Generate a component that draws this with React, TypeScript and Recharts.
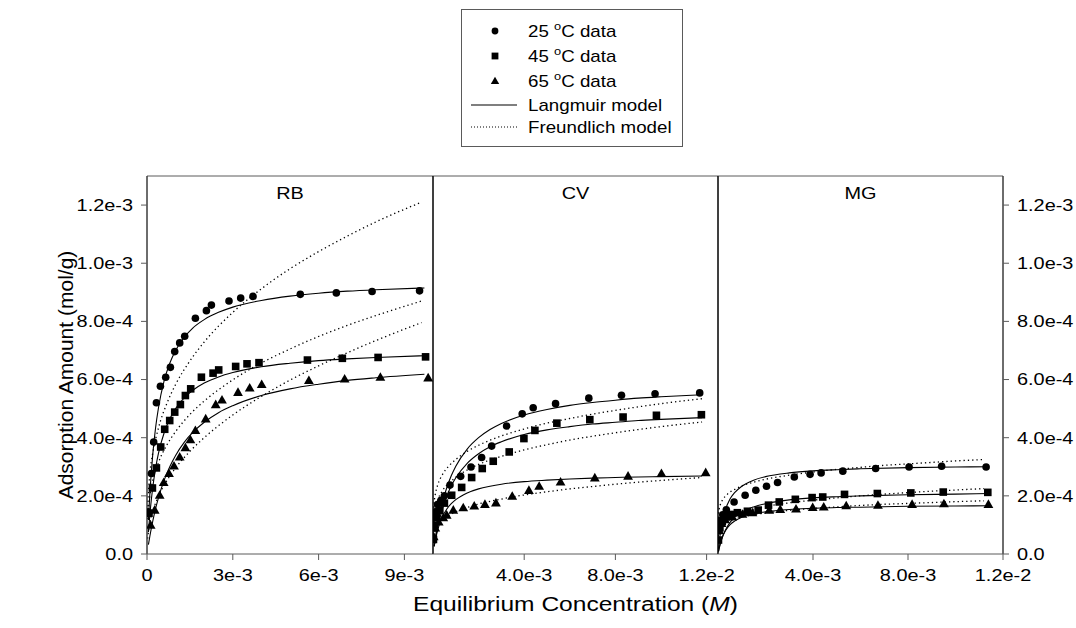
import React from "react";
import {
  ComposedChart,
  Line,
  Scatter,
  XAxis,
  YAxis,
  ReferenceLine,
} from "recharts";

// ---- shared axis values ----
const yTicks = [0, 2e-4, 4e-4, 6e-4, 8e-4, 1.0e-3, 1.2e-3];
const yTickLabels = ["0.0", "2.0e-4", "4.0e-4", "6.0e-4", "8.0e-4", "1.0e-3", "1.2e-3"];
const rbXTicks = [0, 3e-3, 6e-3, 9e-3];
const rbXLabels = ["0", "3e-3", "6e-3", "9e-3"];
const cvXTicks = [4e-3, 8e-3, 1.2e-2];
const cvXLabels = ["4.0e-3", "8.0e-3", "1.2e-2"];
const mgXTicks = [4e-3, 8e-3, 1.2e-2];
const mgXLabels = ["4.0e-3", "8.0e-3", "1.2e-2"];

// ---- RB ----
const rb25X = [5e-5, 1.54e-4, 2.34e-4, 3.29e-4, 4.69e-4, 6.54e-4, 8.18e-4, 9.69e-4, 1.143e-3, 1.318e-3, 1.692e-3, 2.077e-3, 2.252e-3, 2.867e-3, 3.276e-3, 3.706e-3, 5.36e-3, 6.62e-3, 7.87e-3, 9.53e-3];
const rb25Y = [1.45e-4, 2.77e-4, 3.85e-4, 5.2e-4, 5.77e-4, 6.08e-4, 6.42e-4, 6.96e-4, 7.26e-4, 7.49e-4, 8.11e-4, 8.37e-4, 8.56e-4, 8.7e-4, 8.8e-4, 8.86e-4, 8.93e-4, 8.98e-4, 9.03e-4, 9.05e-4];
const rb45X = [7e-5, 1.89e-4, 3.29e-4, 4.79e-4, 6.19e-4, 7.94e-4, 9.69e-4, 1.167e-3, 1.342e-3, 1.528e-3, 1.902e-3, 2.31e-3, 2.507e-3, 3.1e-3, 3.497e-3, 3.916e-3, 5.61e-3, 6.83e-3, 8.08e-3, 9.74e-3];
const rb45Y = [1.4e-4, 2.27e-4, 2.96e-4, 3.68e-4, 4.29e-4, 4.59e-4, 4.88e-4, 5.14e-4, 5.45e-4, 5.68e-4, 6.08e-4, 6.22e-4, 6.33e-4, 6.45e-4, 6.54e-4, 6.58e-4, 6.67e-4, 6.73e-4, 6.76e-4, 6.78e-4];
const rb65X = [1.29e-4, 2.69e-4, 4.44e-4, 5.84e-4, 7.69e-4, 9.44e-4, 1.143e-3, 1.342e-3, 1.517e-3, 1.692e-3, 2.052e-3, 2.402e-3, 2.622e-3, 3.182e-3, 3.591e-3, 4.01e-3, 5.66e-3, 6.91e-3, 8.16e-3, 9.83e-3];
const rb65Y = [9.9e-5, 1.51e-4, 2.02e-4, 2.46e-4, 2.77e-4, 3.03e-4, 3.34e-4, 3.66e-4, 3.93e-4, 4.25e-4, 4.65e-4, 5.14e-4, 5.3e-4, 5.56e-4, 5.71e-4, 5.83e-4, 5.97e-4, 6.02e-4, 6.08e-4, 6.06e-4];

const rbLangX = [5e-5, 1e-4, 2e-4, 3e-4, 4e-4, 6e-4, 8e-4, 1e-3, 1.3e-3, 1.6e-3, 2e-3, 2.5e-3, 3e-3, 4e-3, 5e-3, 6e-3, 7e-3, 8e-3, 9.7e-3];
const rb25Lang = [1.17e-4, 2.08e-4, 3.41e-4, 4.34e-4, 5.02e-4, 5.96e-4, 6.57e-4, 7.0e-4, 7.45e-4, 7.77e-4, 8.06e-4, 8.31e-4, 8.49e-4, 8.72e-4, 8.87e-4, 8.97e-4, 9.04e-4, 9.09e-4, 9.15e-4];
const rb45Lang = [7.5e-5, 1.36e-4, 2.28e-4, 2.95e-4, 3.46e-4, 4.17e-4, 4.65e-4, 5.0e-4, 5.37e-4, 5.63e-4, 5.88e-4, 6.09e-4, 6.24e-4, 6.44e-4, 6.56e-4, 6.65e-4, 6.71e-4, 6.76e-4, 6.82e-4];
const rb65Lang = [3.2e-5, 6.1e-5, 1.12e-4, 1.56e-4, 1.93e-4, 2.54e-4, 3.01e-4, 3.39e-4, 3.84e-4, 4.18e-4, 4.53e-4, 4.86e-4, 5.1e-4, 5.45e-4, 5.68e-4, 5.84e-4, 5.97e-4, 6.06e-4, 6.18e-4];

const rbFreuX = [2e-5, 1e-4, 2e-4, 4e-4, 7e-4, 1e-3, 1.5e-3, 2e-3, 3e-3, 4e-3, 5e-3, 6e-3, 7e-3, 8e-3, 9.6e-3];
const rb25Freu = [1.64e-4, 2.77e-4, 3.46e-4, 4.33e-4, 5.19e-4, 5.83e-4, 6.64e-4, 7.29e-4, 8.31e-4, 9.12e-4, 9.81e-4, 1.04e-3, 1.093e-3, 1.142e-3, 1.21e-3];
const rb45Freu = [1.2e-4, 2.01e-4, 2.51e-4, 3.14e-4, 3.76e-4, 4.21e-4, 4.8e-4, 5.26e-4, 5.99e-4, 6.57e-4, 7.05e-4, 7.48e-4, 7.86e-4, 8.2e-4, 8.7e-4];
const rb65Freu = [5.3e-5, 1.08e-4, 1.46e-4, 1.98e-4, 2.53e-4, 2.96e-4, 3.53e-4, 4.0e-4, 4.78e-4, 5.42e-4, 5.98e-4, 6.47e-4, 6.92e-4, 7.34e-4, 7.96e-4];

// ---- CV ----
const cv25X = [3e-5, 1e-4, 2e-4, 3.5e-4, 5e-4, 7.45e-4, 1.213e-3, 1.665e-3, 2.133e-3, 2.572e-3, 3.229e-3, 3.913e-3, 4.394e-3, 5.375e-3, 6.834e-3, 8.267e-3, 9.739e-3, 1.1697e-2];
const cv25Y = [1.0e-4, 1.45e-4, 1.7e-4, 1.85e-4, 2.0e-4, 2.37e-4, 2.67e-4, 2.99e-4, 3.32e-4, 3.71e-4, 4.4e-4, 4.82e-4, 5.03e-4, 5.17e-4, 5.36e-4, 5.46e-4, 5.51e-4, 5.54e-4];
const cv45X = [2e-5, 6e-5, 1.5e-4, 3e-4, 5e-4, 8.19e-4, 1.257e-3, 1.695e-3, 2.16e-3, 2.642e-3, 3.343e-3, 3.987e-3, 4.469e-3, 5.432e-3, 6.878e-3, 8.337e-3, 9.8e-3, 1.1772e-2];
const cv45Y = [5e-5, 9e-5, 1.25e-4, 1.5e-4, 1.75e-4, 2.02e-4, 2.29e-4, 2.63e-4, 2.94e-4, 3.19e-4, 3.51e-4, 3.97e-4, 4.25e-4, 4.5e-4, 4.62e-4, 4.71e-4, 4.77e-4, 4.79e-4];
const cv65X = [3e-5, 1e-4, 2.5e-4, 4.5e-4, 6e-4, 8.9e-4, 1.327e-3, 1.809e-3, 2.278e-3, 2.76e-3, 3.475e-3, 4.206e-3, 4.657e-3, 5.595e-3, 7.097e-3, 8.556e-3, 1.0019e-2, 1.196e-2];
const cv65Y = [6e-5, 9e-5, 1.1e-4, 1.25e-4, 1.34e-4, 1.51e-4, 1.59e-4, 1.65e-4, 1.71e-4, 1.76e-4, 1.99e-4, 2.19e-4, 2.33e-4, 2.48e-4, 2.62e-4, 2.68e-4, 2.77e-4, 2.8e-4];

const cvLangX = [5e-5, 2e-4, 4e-4, 6e-4, 8e-4, 1e-3, 1.5e-3, 2e-3, 2.5e-3, 3e-3, 4e-3, 5e-3, 6e-3, 7e-3, 8e-3, 9e-3, 1e-2, 1.18e-2];
const cv25Lang = [2.9e-5, 1.02e-4, 1.74e-4, 2.27e-4, 2.69e-4, 3.02e-4, 3.61e-4, 4.0e-4, 4.28e-4, 4.49e-4, 4.78e-4, 4.97e-4, 5.11e-4, 5.21e-4, 5.29e-4, 5.36e-4, 5.41e-4, 5.48e-4];
const cv45Lang = [2.6e-5, 8.96e-5, 1.52e-4, 1.99e-4, 2.34e-4, 2.62e-4, 3.12e-4, 3.45e-4, 3.69e-4, 3.86e-4, 4.11e-4, 4.27e-4, 4.38e-4, 4.47e-4, 4.53e-4, 4.59e-4, 4.63e-4, 4.69e-4];
const cv65Lang = [2.6e-5, 8.1e-5, 1.26e-4, 1.54e-4, 1.73e-4, 1.87e-4, 2.1e-4, 2.24e-4, 2.33e-4, 2.4e-4, 2.49e-4, 2.54e-4, 2.58e-4, 2.61e-4, 2.63e-4, 2.65e-4, 2.66e-4, 2.68e-4];

const cvFreuX = [1e-5, 5e-5, 1e-4, 2e-4, 4e-4, 7e-4, 1e-3, 1.5e-3, 2e-3, 3e-3, 4e-3, 5e-3, 6e-3, 7e-3, 8e-3, 9e-3, 1e-2, 1.18e-2];
const cv25Freu = [1.29e-4, 1.78e-4, 2.05e-4, 2.36e-4, 2.71e-4, 3.03e-4, 3.25e-4, 3.53e-4, 3.74e-4, 4.06e-4, 4.3e-4, 4.5e-4, 4.66e-4, 4.81e-4, 4.94e-4, 5.06e-4, 5.17e-4, 5.34e-4];
const cv45Freu = [9.6e-5, 1.37e-4, 1.59e-4, 1.85e-4, 2.16e-4, 2.44e-4, 2.64e-4, 2.89e-4, 3.08e-4, 3.36e-4, 3.58e-4, 3.76e-4, 3.92e-4, 4.05e-4, 4.17e-4, 4.28e-4, 4.38e-4, 4.54e-4];
const cv65Freu = [4.8e-5, 7.1e-5, 8.3e-5, 9.9e-5, 1.16e-4, 1.33e-4, 1.45e-4, 1.6e-4, 1.72e-4, 1.89e-4, 2.03e-4, 2.14e-4, 2.24e-4, 2.32e-4, 2.4e-4, 2.47e-4, 2.53e-4, 2.63e-4];

// ---- MG ----
const mg25X = [4e-5, 1e-4, 2e-4, 3.5e-4, 6.77e-4, 1.142e-3, 1.593e-3, 2.043e-3, 2.508e-3, 3.213e-3, 3.877e-3, 4.342e-3, 5.256e-3, 6.638e-3, 8.046e-3, 9.416e-3, 1.1289e-2];
const mg25Y = [8e-5, 1.15e-4, 1.35e-4, 1.52e-4, 1.79e-4, 2.02e-4, 2.19e-4, 2.33e-4, 2.46e-4, 2.65e-4, 2.74e-4, 2.79e-4, 2.85e-4, 2.94e-4, 2.99e-4, 3.02e-4, 2.99e-4];
const mg45X = [2e-5, 8e-5, 1.8e-4, 3.5e-4, 5.5e-4, 8.16e-4, 1.239e-3, 1.691e-3, 2.127e-3, 2.579e-3, 3.256e-3, 3.962e-3, 4.41e-3, 5.327e-3, 6.709e-3, 8.118e-3, 9.484e-3, 1.136e-2];
const mg45Y = [4.8e-5, 9e-5, 1.12e-4, 1.28e-4, 1.36e-4, 1.42e-4, 1.47e-4, 1.51e-4, 1.68e-4, 1.79e-4, 1.88e-4, 1.94e-4, 1.96e-4, 2.05e-4, 2.08e-4, 2.1e-4, 2.13e-4, 2.12e-4];
const mg65X = [5e-5, 1.5e-4, 3e-4, 6e-4, 1.028e-3, 1.45e-3, 2.156e-3, 2.621e-3, 3.285e-3, 3.987e-3, 4.452e-3, 5.399e-3, 6.735e-3, 8.173e-3, 9.513e-3, 1.1386e-2];
const mg65Y = [8e-5, 1.05e-4, 1.18e-4, 1.28e-4, 1.37e-4, 1.42e-4, 1.51e-4, 1.53e-4, 1.55e-4, 1.6e-4, 1.62e-4, 1.66e-4, 1.68e-4, 1.71e-4, 1.73e-4, 1.71e-4];

const mgLangX = [2e-5, 5e-5, 1e-4, 2e-4, 3e-4, 5e-4, 7e-4, 1e-3, 1.5e-3, 2e-3, 3e-3, 4e-3, 5e-3, 6e-3, 8e-3, 1e-2, 1.14e-2];
const mg25Lang = [1.8e-5, 4.1e-5, 7.3e-5, 1.18e-4, 1.49e-4, 1.88e-4, 2.11e-4, 2.33e-4, 2.54e-4, 2.66e-4, 2.79e-4, 2.86e-4, 2.9e-4, 2.93e-4, 2.97e-4, 2.99e-4, 3.0e-4];
const mg45Lang = [8e-6, 1.9e-5, 3.6e-5, 6.1e-5, 8.0e-5, 1.08e-4, 1.26e-4, 1.44e-4, 1.62e-4, 1.73e-4, 1.86e-4, 1.93e-4, 1.97e-4, 2.0e-4, 2.04e-4, 2.06e-4, 2.08e-4];
const mg65Lang = [9e-6, 2.1e-5, 3.8e-5, 6.2e-5, 7.8e-5, 1.0e-4, 1.13e-4, 1.26e-4, 1.38e-4, 1.45e-4, 1.53e-4, 1.57e-4, 1.6e-4, 1.61e-4, 1.64e-4, 1.65e-4, 1.66e-4];

const mgFreuX = [1e-5, 5e-5, 1e-4, 2e-4, 4e-4, 7e-4, 1e-3, 1.5e-3, 2e-3, 3e-3, 4e-3, 5e-3, 6e-3, 7e-3, 8e-3, 9e-3, 1e-2, 1.12e-2];
const mg25Freu = [1.24e-4, 1.55e-4, 1.7e-4, 1.87e-4, 2.06e-4, 2.22e-4, 2.34e-4, 2.47e-4, 2.57e-4, 2.71e-4, 2.82e-4, 2.91e-4, 2.98e-4, 3.05e-4, 3.1e-4, 3.15e-4, 3.2e-4, 3.25e-4];
const mg45Freu = [6.0e-5, 8.1e-5, 9.2e-5, 1.05e-4, 1.2e-4, 1.33e-4, 1.43e-4, 1.54e-4, 1.63e-4, 1.76e-4, 1.85e-4, 1.93e-4, 2.0e-4, 2.06e-4, 2.11e-4, 2.16e-4, 2.2e-4, 2.25e-4];
const mg65Freu = [6.2e-5, 8.0e-5, 8.9e-5, 9.9e-5, 1.1e-4, 1.2e-4, 1.27e-4, 1.35e-4, 1.41e-4, 1.5e-4, 1.57e-4, 1.62e-4, 1.67e-4, 1.71e-4, 1.74e-4, 1.77e-4, 1.8e-4, 1.83e-4];

// ---- drawing ----
const FONT = "'Liberation Sans', Arial, Helvetica, sans-serif";
const WIDE = 1.17; // text in this figure is set a little wide
const FRAME = "#5a5a5a";
const Y_MAX = 1.3e-3;

type Pt = { x: number; y: number };
const zip = (xs: number[], ys: number[]): Pt[] => xs.map((x, i) => ({ x, y: ys[i] }));

const Dot = (p: any) => <circle cx={p.cx} cy={p.cy} r={3.8} fill="#000" />;
const Box = (p: any) => (
  <rect x={p.cx - 3.8} y={p.cy - 3.8} width={7.6} height={7.6} fill="#000" />
);
const Tri = (p: any) => (
  <polygon
    points={`${p.cx},${p.cy - 5} ${p.cx + 4.9},${p.cy + 3.6} ${p.cx - 4.9},${p.cy + 3.6}`}
    fill="#000"
  />
);

const WideText = ({ x, y, anchor, dy, size, children }: any) => (
  <g transform={`translate(${x},${y})`}>
    <text
      transform={`scale(${WIDE},1)`}
      textAnchor={anchor}
      dy={dy}
      fontSize={size}
      fontFamily={FONT}
      fill="#000"
    >
      {children}
    </text>
  </g>
);

const tickRenderer = (labels: string[], anchor: string, dy: string) => (p: any) => (
  <WideText x={p.x} y={p.y} anchor={anchor} dy={dy} size={17}>
    {labels[p.index]}
  </WideText>
);

type Temp = { pts: Pt[]; lang: Pt[]; freu: Pt[]; shape: (p: any) => React.ReactElement };

type PanelProps = {
  name: string;
  left: number;
  width: number;
  margin: { top: number; right: number; bottom: number; left: number };
  xMax: number;
  xTicks: number[];
  xLabels: string[];
  temps: Temp[];
  yAxis: "left" | "right" | "none";
  xTitle?: boolean;
};

const Panel = ({ name, left, width, margin, xMax, xTicks, xLabels, temps, yAxis, xTitle }: PanelProps) => (
  <div style={{ position: "absolute", left, top: 0 }}>
    <ComposedChart width={width} height={628} margin={margin}>
      <XAxis
        type="number"
        dataKey="x"
        domain={[0, xMax]}
        ticks={xTicks}
        allowDataOverflow
        stroke={FRAME}
        tickSize={6}
        tickMargin={9}
        height={30}
        tick={tickRenderer(xLabels, "middle", "0.71em")}
        label={
          xTitle
            ? {
                content: (lp: any) => {
                  const vb = lp.viewBox;
                  return (
                    <g transform={`translate(${vb.x + vb.width / 2},${vb.y + 57})`}>
                      <text transform={`scale(${WIDE},1)`} textAnchor="middle" fontSize={21} fontFamily={FONT} fill="#000">
                        Equilibrium Concentration (<tspan fontStyle="italic">M</tspan>)
                      </text>
                    </g>
                  );
                },
              }
            : undefined
        }
      />
      <YAxis
        type="number"
        dataKey="y"
        domain={[0, Y_MAX]}
        ticks={yTicks}
        allowDataOverflow
        hide={yAxis === "none"}
        orientation={yAxis === "right" ? "right" : "left"}
        width={yAxis === "left" ? 147 : 72}
        stroke={FRAME}
        tickSize={6}
        tickMargin={8}
        tick={tickRenderer(yTickLabels, yAxis === "right" ? "start" : "end", "0.35em")}
        label={
          yAxis === "left"
            ? {
                content: () => (
                  <g transform="translate(66,375) rotate(-90)">
                    <text textAnchor="middle" dy="0.35em" fontSize={21} fontFamily={FONT} fill="#000">
                      Adsorption Amount (mol/g)
                    </text>
                  </g>
                ),
              }
            : undefined
        }
      />
      <ReferenceLine
        y={Y_MAX}
        stroke={FRAME}
        label={{
          content: (lp: any) => {
            const vb = lp.viewBox;
            return (
              <WideText x={vb.x + vb.width / 2} y={vb.y + 23} anchor="middle" dy="0" size={17}>
                {name}
              </WideText>
            );
          },
        }}
      />
      <ReferenceLine x={0} stroke="#000" />
      <ReferenceLine x={xMax} stroke="#000" />
      {temps.map((t, i) => (
        <Line
          key={`l${i}`}
          data={t.lang}
          dataKey="y"
          type="monotone"
          stroke="#000"
          strokeWidth={1.1}
          dot={false}
          isAnimationActive={false}
        />
      ))}
      {temps.map((t, i) => (
        <Line
          key={`f${i}`}
          data={t.freu}
          dataKey="y"
          type="monotone"
          stroke="#000"
          strokeWidth={1.3}
          strokeDasharray="1.3 3"
          dot={false}
          isAnimationActive={false}
        />
      ))}
      {temps.map((t, i) => (
        <Scatter key={`s${i}`} data={t.pts} dataKey="y" shape={t.shape} isAnimationActive={false} />
      ))}
    </ComposedChart>
  </div>
);

const legendRows = [
  { label: "25", shape: "dot" },
  { label: "45", shape: "box" },
  { label: "65", shape: "tri" },
];

const Legend = () => (
  <svg
    width={222}
    height={140}
    style={{ position: "absolute", left: 461, top: 9 }}
  >
    <rect x={0.5} y={0.5} width={221} height={137} fill="#fff" stroke={FRAME} />
    {legendRows.map((r, i) => {
      const cy = 22 + i * 25;
      return (
        <g key={r.label}>
          {r.shape === "dot" && <circle cx={34} cy={cy} r={3.4} fill="#000" />}
          {r.shape === "box" && <rect x={30.6} y={cy - 3.4} width={6.8} height={6.8} fill="#000" />}
          {r.shape === "tri" && (
            <polygon points={`34,${cy - 4.3} 38.2,${cy + 3.1} 29.8,${cy + 3.1}`} fill="#000" />
          )}
          <g transform={`translate(67,${cy})`}>
            <text transform={`scale(${WIDE},1)`} dy="0.35em" fontSize={16} fontFamily={FONT} fill="#000">
              {r.label} <tspan fontSize={11} dy="-7">o</tspan>
              <tspan dy="7">C data</tspan>
            </text>
          </g>
        </g>
      );
    })}
    <line x1={10} x2={56} y1={96} y2={96} stroke="#000" strokeWidth={1.1} />
    <line x1={10} x2={56} y1={118} y2={118} stroke="#000" strokeWidth={1.2} strokeDasharray="1 2" />
    <g transform="translate(67,96)">
      <text transform={`scale(${WIDE},1)`} dy="0.35em" fontSize={16} fontFamily={FONT} fill="#000">
        Langmuir model
      </text>
    </g>
    <g transform="translate(67,118)">
      <text transform={`scale(${WIDE},1)`} dy="0.35em" fontSize={16} fontFamily={FONT} fill="#000">
        Freundlich model
      </text>
    </g>
  </svg>
);

const rbTemps: Temp[] = [
  { pts: zip(rb25X, rb25Y), lang: zip(rbLangX, rb25Lang), freu: zip(rbFreuX, rb25Freu), shape: Dot },
  { pts: zip(rb45X, rb45Y), lang: zip(rbLangX, rb45Lang), freu: zip(rbFreuX, rb45Freu), shape: Box },
  { pts: zip(rb65X, rb65Y), lang: zip(rbLangX, rb65Lang), freu: zip(rbFreuX, rb65Freu), shape: Tri },
];
const cvTemps: Temp[] = [
  { pts: zip(cv25X, cv25Y), lang: zip(cvLangX, cv25Lang), freu: zip(cvFreuX, cv25Freu), shape: Dot },
  { pts: zip(cv45X, cv45Y), lang: zip(cvLangX, cv45Lang), freu: zip(cvFreuX, cv45Freu), shape: Box },
  { pts: zip(cv65X, cv65Y), lang: zip(cvLangX, cv65Lang), freu: zip(cvFreuX, cv65Freu), shape: Tri },
];
const mgTemps: Temp[] = [
  { pts: zip(mg25X, mg25Y), lang: zip(mgLangX, mg25Lang), freu: zip(mgFreuX, mg25Freu), shape: Dot },
  { pts: zip(mg45X, mg45Y), lang: zip(mgLangX, mg45Lang), freu: zip(mgFreuX, mg45Freu), shape: Box },
  { pts: zip(mg65X, mg65Y), lang: zip(mgLangX, mg65Lang), freu: zip(mgFreuX, mg65Freu), shape: Tri },
];

export default function App() {
  return (
    <div
      style={{
        position: "fixed",
        left: 0,
        top: 0,
        width: 1076,
        height: 628,
        background: "#fff",
        overflow: "hidden",
      }}
    >
      <Panel
        name="RB"
        left={0}
        width={460}
        margin={{ top: 176, right: 27, bottom: 44, left: 0 }}
        xMax={0.01}
        xTicks={rbXTicks}
        xLabels={rbXLabels}
        temps={rbTemps}
        yAxis="left"
      />
      <Panel
        name="CV"
        left={393}
        width={370}
        margin={{ top: 176, right: 45, bottom: 44, left: 40 }}
        xMax={0.0125}
        xTicks={cvXTicks}
        xLabels={cvXLabels}
        temps={cvTemps}
        yAxis="none"
        xTitle
      />
      <Panel
        name="MG"
        left={678}
        width={398}
        margin={{ top: 176, right: 1, bottom: 44, left: 40 }}
        xMax={0.012}
        xTicks={mgXTicks}
        xLabels={mgXLabels}
        temps={mgTemps}
        yAxis="right"
      />
      <Legend />
    </div>
  );
}
